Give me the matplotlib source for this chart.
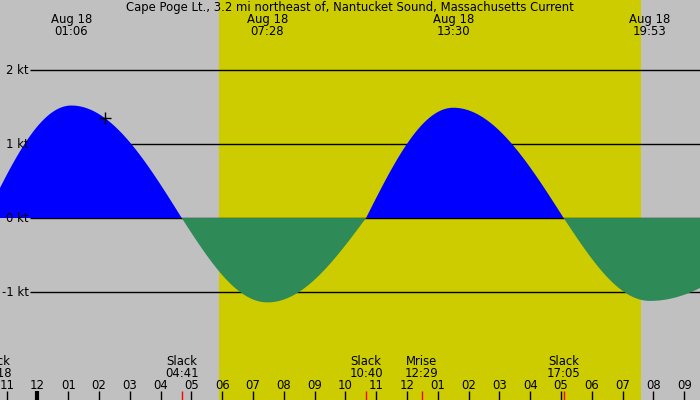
import numpy as np
import matplotlib.pyplot as plt
import matplotlib.transforms as mtransforms

# current events, hours from midnight Aug 18 (negative = Aug 17)
event_hours = [-1.70, 1.10, 4.683, 7.467, 10.667, 13.50, 17.083, 19.883, 24.40]
event_knots = [0.0, 1.52, 0.0, -1.14, 0.0, 1.49, 0.0, -1.12, 0.0]

# labels on top (max flood / max ebb)
top_hours = [1.10, 7.467, 13.50, 19.883]
top_dates = ["Aug 18", "Aug 18", "Aug 18", "Aug 18"]
top_times = ["01:06", "07:28", "13:30", "19:53"]

# labels at the bottom (slack, moonrise)
bottom_hours = [-1.70, 4.683, 10.667, 12.483, 17.083]
bottom_names = ["Slack", "Slack", "Slack", "Mrise", "Slack"]
bottom_times = ["22:18", "04:41", "10:40", "12:29", "17:05"]

sunrise, sunset = 5.90, 19.60
now_hour = 2.2
kt_levels = [2, 1, 0, -1]
hour_ticks = list(range(-1, 22))

title = "Cape Poge Lt., 3.2 mi northeast of, Nantucket Sound, Massachusetts Current"

GRAY = "#c0c0c0"
YELLOW = "#cccc00"
FLOOD = "#0000ff"
EBB = "#2e8b57"
FS = 8.4

xmin, xmax = -1.2175, 21.51
ymin, ymax = -2.459, 2.946


def current_curve(hours, knots, n=2000):
    """Quarter-sine segments between slack and peak events."""
    t_all, v_all = [], []
    for (t0, v0), (t1, v1) in zip(zip(hours[:-1], knots[:-1]), zip(hours[1:], knots[1:])):
        f = np.linspace(0, 1, n // len(hours))
        t = t0 + (t1 - t0) * f
        if v0 == 0:
            v = v1 * np.sin(np.pi / 2 * f)
        else:
            v = v0 * np.cos(np.pi / 2 * f)
        t_all.append(t)
        v_all.append(v)
    return np.concatenate(t_all), np.concatenate(v_all)


def hour_label(h):
    return f"{(h % 12) or 12:02d}"


t, v = current_curve(event_hours, event_knots)

fig = plt.figure(figsize=(7, 4), dpi=100, facecolor=GRAY)
ax = fig.add_axes([0, 0, 1, 1])
ax.set_facecolor(GRAY)
ax.set_xlim(xmin, xmax)
ax.set_ylim(ymin, ymax)
ax.set_xticks([])
ax.set_yticks([])
for s in ax.spines.values():
    s.set_visible(False)

# daylight
ax.axvspan(sunrise, sunset, color=YELLOW, lw=0, zorder=0)

# kt grid lines and labels
trans_y = mtransforms.blended_transform_factory(ax.transAxes, ax.transData)
ax.hlines(kt_levels, 30 / 700, 1, transform=trans_y, color="black", lw=1, zorder=1)
for k in kt_levels:
    ax.text(28.5 / 700, k, f"{k} kt", transform=trans_y, ha="right", va="center",
            fontsize=FS, zorder=5)

# flood / ebb fills
ax.fill_between(t, v, 0, where=v >= 0, interpolate=True, color=FLOOD, lw=0, zorder=2)
ax.fill_between(t, v, 0, where=v <= 0, interpolate=True, color=EBB, lw=0, zorder=2)

# current time marker
ax.plot([now_hour], [np.interp(now_hour, t, v)], marker="+", color="black",
        ms=8, mew=1, zorder=6)

trans_x = mtransforms.blended_transform_factory(ax.transData, ax.transAxes)


def ypix(p):
    return 1 - p / 400


ax.text(0.5, ypix(7.5), title, transform=ax.transAxes, ha="center", va="center", fontsize=FS)
for h, d, tm in zip(top_hours, top_dates, top_times):
    ax.text(h, ypix(20), d, transform=trans_x, ha="center", va="center", fontsize=FS)
    ax.text(h, ypix(31.5), tm, transform=trans_x, ha="center", va="center", fontsize=FS)

# hour ticks
for h in hour_ticks:
    ax.vlines(h, ypix(400), ypix(391), transform=trans_x, color="black",
              lw=3 if h % 24 == 0 else 1, zorder=4)
    ax.text(h, ypix(385.5), hour_label(h), transform=trans_x, ha="center", va="center",
            fontsize=FS)

# slack / moon events
for h, name, tm in zip(bottom_hours, bottom_names, bottom_times):
    ax.vlines(h, ypix(400), ypix(391), transform=trans_x, color="red", lw=1, zorder=4)
    hl = max(h, xmin - 0.16)
    ax.text(hl, ypix(361.5), name, transform=trans_x, ha="center", va="center", fontsize=FS)
    ax.text(hl, ypix(373.5), tm, transform=trans_x, ha="center", va="center", fontsize=FS)

fig.savefig("out.png", dpi=100, facecolor=GRAY)
